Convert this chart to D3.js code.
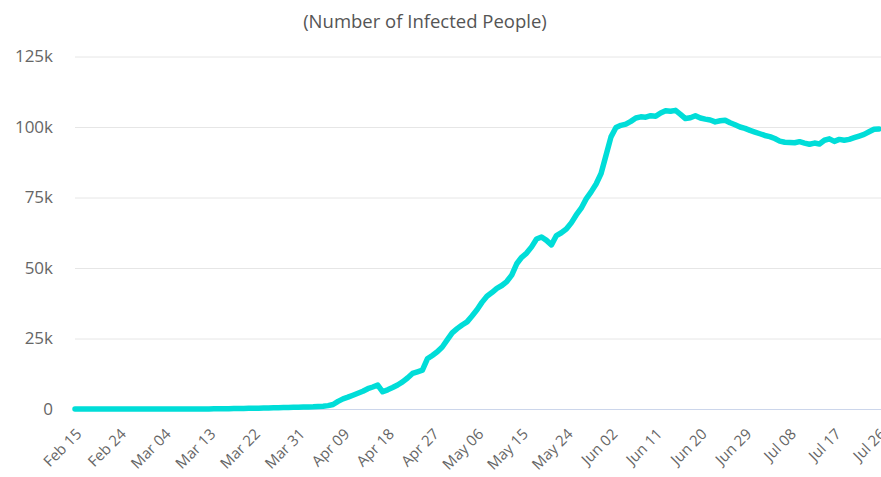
<!DOCTYPE html>
<html>
<head>
<meta charset="utf-8">
<script src="https://cdn.jsdelivr.net/npm/d3@7/dist/d3.min.js"></script>
<style>
  html, body { margin: 0; padding: 0; background: #fff; }
  svg { display: block; font-family: "Open Sans", "DejaVu Sans", sans-serif; }
</style>
</head>
<body>
<svg id="chart" width="881" height="477"></svg>
<script>
// ---- data ----
const chartTitle = "(Number of Infected People)";
const startDate = "2020-02-15";
// daily infected people, in thousands, from Feb 15 to Jul 26 (2020)
const infectedK = [
  0,0,0,0,0,0,0,0,0,0,            // Feb 15 - Feb 24
  0,0,0,0,0,0,0,0,0,0,            // Feb 25 - Mar 05
  0,0,0,0,0,0.02,0.03,0.04,0.05,0.07, // Mar 06 - Mar 15
  0.09,0.12,0.15,0.18,0.2,0.24,0.27,0.3,0.33,0.37, // Mar 16 - Mar 25
  0.42,0.46,0.5,0.55,0.6,0.65,0.7,0.75,0.8,0.9,    // Mar 26 - Apr 04
  1.0,1.2,1.6,2.7,3.6,4.2,4.9,5.6,6.3,7.2,         // Apr 05 - Apr 14
  7.8,8.5,6.1,6.8,7.6,8.5,9.6,11.0,12.6,13.2,      // Apr 15 - Apr 24
  13.8,17.8,19.0,20.3,22.0,24.5,27.0,28.5,29.8,30.9, // Apr 25 - May 04
  33.0,35.2,37.8,40.0,41.3,42.8,43.8,45.2,47.5,51.5, // May 05 - May 14
  53.8,55.3,57.5,60.3,61.0,59.8,58.2,61.5,62.5,63.8, // May 15 - May 24
  66.0,68.8,71.2,74.5,77.0,79.8,83.5,90.0,96.5,99.8, // May 25 - Jun 03
  100.6,101.0,102.0,103.2,103.6,103.5,104.0,103.8,105.0,105.8, // Jun 04 - Jun 13
  105.6,105.9,104.5,103.0,103.3,104.0,103.2,102.8,102.5,101.8, // Jun 14 - Jun 23
  102.2,102.4,101.5,100.8,100.0,99.5,98.8,98.2,97.6,97.0,      // Jun 24 - Jul 03
  96.6,95.9,95.0,94.6,94.5,94.4,94.8,94.3,93.9,94.3,           // Jul 04 - Jul 13
  94.0,95.3,95.8,94.9,95.6,95.3,95.6,96.2,96.8,97.4,           // Jul 14 - Jul 23
  98.3,99.2,99.3                                               // Jul 24 - Jul 26
];
const yTicks = [0, 25000, 50000, 75000, 100000, 125000];
const xTickLabels = ["Feb 15","Feb 24","Mar 04","Mar 13","Mar 22","Mar 31","Apr 09","Apr 18","Apr 27",
                     "May 06","May 15","May 24","Jun 02","Jun 11","Jun 20","Jun 29","Jul 08","Jul 17","Jul 26"];
const xTickStepDays = 9;

// ---- build ----
const parse = d3.timeParse("%Y-%m-%d");
const t0 = parse(startDate);
const data = infectedK.map((v, i) => ({ date: d3.timeDay.offset(t0, i), value: v * 1000 }));

const W = 881, H = 477;
const plotLeft = 75, plotRight = 879, plotTop = 56.5, plotBottom = 409;

const svg = d3.select("#chart");

const x = d3.scaleTime()
  .domain([t0, data[data.length - 1].date])
  .range([plotLeft, plotRight]);
const y = d3.scaleLinear().domain([0, 125000]).range([plotBottom, plotTop]);

// title
svg.append("text")
  .attr("x", 425).attr("y", 28)
  .attr("text-anchor", "middle")
  .attr("font-size", 18.5)
  .attr("fill", "#555")
  .text(chartTitle);

// gridlines
const yAxis = d3.axisLeft(y)
  .tickValues(yTicks)
  .tickSize(-(W - plotLeft))
  .tickPadding(22)
  .tickFormat(d => d === 0 ? "0" : d3.format("~s")(d));
const gy = svg.append("g").attr("transform", `translate(${plotLeft},0)`).call(yAxis);
gy.select(".domain").remove();
gy.selectAll(".tick line").attr("stroke", "#e6e6e6").attr("stroke-width", 1);
gy.selectAll(".tick text").attr("fill", "#666").attr("font-size", 17)
  .attr("font-family", "\"Open Sans\", sans-serif");

// baseline
svg.append("line")
  .attr("x1", plotLeft).attr("x2", W)
  .attr("y1", plotBottom + 0.5).attr("y2", plotBottom + 0.5)
  .attr("stroke", "#ccd6eb").attr("stroke-width", 1);

// x axis labels
const tickDates = xTickLabels.map((_, i) => d3.timeDay.offset(t0, i * xTickStepDays));
const xAxis = d3.axisBottom(x)
  .tickValues(tickDates)
  .tickSize(0)
  .tickFormat((d, i) => xTickLabels[i]);
const gx = svg.append("g").attr("transform", `translate(0,${plotBottom})`).call(xAxis);
gx.select(".domain").remove();
gx.selectAll(".tick text")
  .attr("fill", "#666")
  .attr("font-size", 15)
  .attr("font-family", "\"Open Sans\", sans-serif")
  .attr("text-anchor", "end")
  .attr("dy", null)
  .attr("y", 0)
  .attr("transform", "translate(7,26) rotate(-45)");

// line
const line = d3.line()
  .x(d => x(d.date))
  .y(d => y(d.value))
  .curve(d3.curveLinear);
svg.append("path")
  .datum(data)
  .attr("fill", "none")
  .attr("stroke", "#00ddd8")
  .attr("stroke-width", 5.5)
  .attr("stroke-linejoin", "round")
  .attr("stroke-linecap", "round")
  .attr("d", line);
</script>
</body>
</html>
